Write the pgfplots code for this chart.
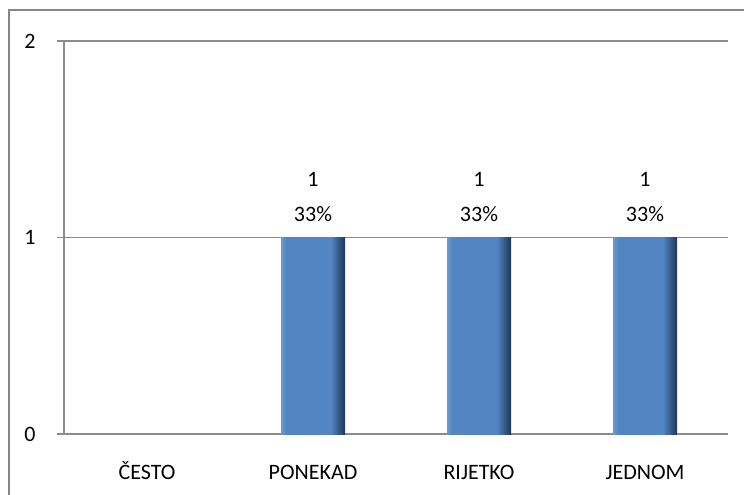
\documentclass[border=0pt]{standalone}
\usepackage{pgfplots}
\pgfplotsset{compat=1.18}
\usepackage{fontspec}
\setmainfont{Carlito}

\definecolor{framegray}{HTML}{868686}
\definecolor{gridgray}{HTML}{8C8C8C}
\definecolor{barlight}{HTML}{6C9AD2}
\definecolor{barmid}{HTML}{5385C3}
\definecolor{bardark}{HTML}{1C3658}

% left-to-right bevel: light edge, flat body, dark right edge
\pgfdeclarehorizontalshading{bevel}{100bp}{%
  color(0bp)=(barlight); color(25bp)=(barlight); color(29bp)=(barmid);
  color(64bp)=(barmid); color(75bp)=(bardark); color(100bp)=(bardark)}

\begin{document}
\begin{tikzpicture}
\begin{axis}[
    scale only axis,
    width=664pt, height=393pt,
    font=\fontsize{22}{26}\selectfont,
    /pgf/number format/assume math mode=true,
    xmin=0.5, xmax=4.5,
    ymin=0, ymax=2,
    axis x line*=bottom,
    axis y line*=left,
    axis line style={gridgray, line width=1.5pt, -},
    xtick={1,2,3,4},
    xticklabels={ČESTO, PONEKAD, RIJETKO, JEDNOM},
    major x tick style={draw=none},
    extra x ticks={0.5,1.5,2.5,3.5,4.5},
    extra x tick labels={},
    extra x tick style={major tick length=7pt, tick align=outside,
        tick style={gridgray, line width=1.5pt}, grid=none},
    xticklabel style={text height=16pt, text depth=4pt, yshift=-19pt},
    ytick={0,1,2},
    ymajorgrids,
    major grid style={gridgray, line width=1.5pt},
    tick align=outside,
    major tick length=7pt,
    y tick style={gridgray, line width=1.5pt},
    yticklabel style={xshift=-18pt},
    ybar, bar width=64pt, bar shift=0pt,
    nodes near coords={\pgfmathprintnumber{\pgfplotspointmeta}\\33\%},
    nodes near coords style={align=center, font=\fontsize{22}{35}\selectfont,
        anchor=south, yshift=12pt, black},
    every axis plot/.append style={draw=none, shading=bevel},
    clip=false,
]
\addplot coordinates {(2,1)};
\addplot coordinates {(3,1)};
\addplot coordinates {(4,1)};
\coordinate (SW) at (rel axis cs:0,0);
\end{axis}
\pgfresetboundingbox
\path[use as bounding box] (SW) ++(-64pt,-61pt) rectangle ++(744pt,495pt);
\draw[framegray, line width=2pt] (SW) ++(-55pt,424pt) rectangle ++(760pt,-520pt);
\end{tikzpicture}
\end{document}
